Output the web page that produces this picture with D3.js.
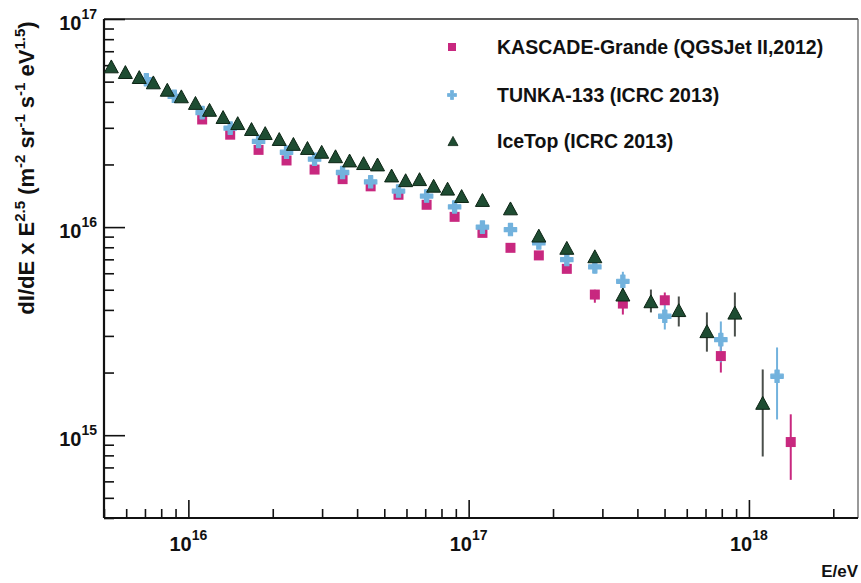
<!DOCTYPE html>
<html>
<head>
<meta charset="utf-8">
<script src="https://cdn.jsdelivr.net/npm/d3@7"></script>
<style>
  body { margin: 0; background: #fff; }
  text { font-family: "Liberation Sans", Arial, sans-serif; font-weight: bold; fill: #111; }
</style>
</head>
<body>
<div id="chart"></div>
<script>
// KASCADE-Grande (QGSJet II, 2012)
var kgEnergy = [1.12e16, 1.41e16, 1.78e16, 2.24e16, 2.82e16, 3.55e16, 4.47e16, 5.62e16, 7.08e16, 8.91e16,
                1.12e17, 1.41e17, 1.78e17, 2.24e17, 2.82e17, 3.55e17, 5.01e17, 7.94e17, 1.41e18];
var kgFlux = [3.29e16, 2.78e16, 2.35e16, 2.09e16, 1.89e16, 1.70e16, 1.57e16, 1.43e16, 1.28e16, 1.12e16,
              9.38e15, 7.95e15, 7.31e15, 6.30e15, 4.74e15, 4.29e15, 4.45e15, 2.40e15, 9.27e14];
var kgErrLo = [null, null, null, null, null, null, null, null, null, null,
               null, null, null, null, 4.33e15, 3.80e15, 4.24e15, 2.00e15, 6.1e14];
var kgErrHi = [null, null, null, null, null, null, null, null, null, null,
               null, null, null, null, 5.00e15, 4.66e15, 4.85e15, 2.98e15, 1.26e15];

// TUNKA-133 (ICRC 2013)
var tkEnergy = [7.08e15, 8.91e15, 1.12e16, 1.41e16, 1.78e16, 2.24e16, 2.82e16, 3.55e16, 4.47e16, 5.62e16,
                7.08e16, 8.91e16, 1.12e17, 1.41e17, 1.78e17, 2.24e17, 2.82e17, 3.55e17, 5.01e17, 7.94e17, 1.26e18];
var tkFlux = [5.11e16, 4.25e16, 3.55e16, 2.99e16, 2.58e16, 2.29e16, 2.12e16, 1.83e16, 1.65e16, 1.49e16,
              1.41e16, 1.25e16, 1.00e16, 9.73e15, 8.40e15, 6.98e15, 6.44e15, 5.49e15, 3.73e15, 2.88e15, 1.92e15];
var tkErrLo = [null, null, null, null, null, null, null, null, null, null,
               null, null, null, null, null, null, 6.0e15, 4.84e15, 3.22e15, 2.24e15, 1.19e15];
var tkErrHi = [null, null, null, null, null, null, null, null, null, null,
               null, null, null, null, null, null, 6.9e15, 6.10e15, 4.34e15, 3.52e15, 2.64e15];

// IceTop (ICRC 2013)
var itEnergy = [5.31e15, 5.96e15, 6.68e15, 7.50e15, 8.41e15, 9.44e15, 1.06e16, 1.19e16, 1.33e16, 1.50e16,
                1.68e16, 1.88e16, 2.11e16, 2.37e16, 2.66e16, 2.99e16, 3.35e16, 3.76e16, 4.22e16, 4.73e16,
                5.31e16, 5.96e16, 6.68e16, 7.50e16, 8.41e16, 9.44e16, 1.12e17, 1.41e17, 1.78e17, 2.24e17,
                2.82e17, 3.55e17, 4.47e17, 5.62e17, 7.08e17, 8.91e17, 1.12e18];
var itFlux = [5.92e16, 5.56e16, 5.26e16, 4.96e16, 4.57e16, 4.25e16, 3.95e16, 3.66e16, 3.38e16, 3.16e16,
              2.96e16, 2.83e16, 2.65e16, 2.51e16, 2.40e16, 2.30e16, 2.19e16, 2.09e16, 2.03e16, 2.00e16,
              1.77e16, 1.68e16, 1.70e16, 1.58e16, 1.53e16, 1.41e16, 1.35e16, 1.23e16, 9.10e15, 7.95e15,
              7.24e15, 4.74e15, 4.40e15, 3.99e15, 3.16e15, 3.88e15, 1.43e15];
var itErrLo = itFlux.map(function () { return null; });
var itErrHi = itFlux.map(function () { return null; });
[[31, 4.45e15, 5.05e15], [32, 3.89e15, 5.01e15], [33, 3.33e15, 4.64e15], [34, 2.52e15, 3.89e15],
 [35, 2.98e15, 4.85e15], [36, 7.9e14, 2.07e15]].forEach(function (e) { itErrLo[e[0]] = e[1]; itErrHi[e[0]] = e[2]; });

var legendLabels = ["KASCADE-Grande (QGSJet II,2012)", "TUNKA-133 (ICRC 2013)", "IceTop (ICRC 2013)"];
var xMajor = [1e16, 1e17, 1e18];
var yMajor = [1e15, 1e16, 1e17];

var width = 861, height = 583;
var margin = {top: 19, right: 3, bottom: 65, left: 104};

var pink = "#c8287f", blue = "#72b2dd", green = "#1e4c32";

var svg = d3.select("#chart").append("svg")
    .attr("width", width)
    .attr("height", height);

svg.append("rect").attr("width", width).attr("height", height).attr("fill", "#fff");

var x = d3.scaleLog().domain([5e15, 2.45e18]).range([margin.left, width - margin.right]);
var y = d3.scaleLog().domain([4e14, 1e17]).range([height - margin.bottom, margin.top]);

var x0 = margin.left, x1 = width - margin.right, y0 = height - margin.bottom, y1 = margin.top;

// frame (top and right)
svg.append("line").attr("x1", x0).attr("x2", x1).attr("y1", y1).attr("y2", y1)
  .attr("stroke", "#222").attr("stroke-width", 1.5);
svg.append("line").attr("x1", x1).attr("x2", x1).attr("y1", y1).attr("y2", y0)
  .attr("stroke", "#555").attr("stroke-width", 1.2);

// axes: ticks drawn inward, majors longer than minors
function isMajor(v) { return Math.abs(Math.log10(v) - Math.round(Math.log10(v))) < 1e-6; }
var xMinor = x.ticks().filter(function (v) { return !isMajor(v); });
var yMinor = y.ticks().filter(function (v) { return !isMajor(v); });

function styleAxis(g) {
  g.select(".domain").remove();
  g.selectAll(".tick line").attr("stroke", "#111").attr("stroke-width", 1.6);
  g.selectAll(".tick text").remove();
}

svg.append("g").attr("transform", "translate(0," + y0 + ")")
  .call(d3.axisBottom(x).tickValues(xMinor).tickSize(-9)).call(styleAxis);
svg.append("g").attr("transform", "translate(0," + y0 + ")")
  .call(d3.axisBottom(x).tickValues(xMajor).tickSize(-18)).call(styleAxis);
svg.append("g").attr("transform", "translate(" + x0 + ",0)")
  .call(d3.axisLeft(y).tickValues(yMinor).tickSize(-10)).call(styleAxis);
svg.append("g").attr("transform", "translate(" + x0 + ",0)")
  .call(d3.axisLeft(y).tickValues(yMajor).tickSize(-21)).call(styleAxis);

svg.append("line").attr("x1", x0).attr("x2", x1).attr("y1", y0).attr("y2", y0)
  .attr("stroke", "#111").attr("stroke-width", 2.2);
svg.append("line").attr("x1", x0).attr("x2", x0).attr("y1", y1).attr("y2", y0)
  .attr("stroke", "#111").attr("stroke-width", 2.2);

// tick labels 10^n
xMajor.forEach(function (v) {
  var t = svg.append("text").attr("x", x(v)).attr("y", 551).attr("text-anchor", "middle");
  t.append("tspan").attr("font-size", 20).text("10");
  t.append("tspan").attr("font-size", 14).attr("dy", -11).text(Math.round(Math.log10(v)));
});
yMajor.forEach(function (v) {
  var t = svg.append("text").attr("x", 97).attr("y", y(v) + 10.5).attr("text-anchor", "end");
  t.append("tspan").attr("font-size", 20).text("10");
  t.append("tspan").attr("font-size", 14).attr("dy", -11).text(Math.round(Math.log10(v)));
});

// axis titles
svg.append("text").attr("x", 858).attr("y", 577).attr("text-anchor", "end")
  .attr("font-size", 17).text("E/eV");

var yl = svg.append("text").attr("transform", "translate(34,168) rotate(-90)")
  .attr("text-anchor", "middle").attr("font-size", 22);
[["dI/dE x E", 0], ["2.5", 1], [" (m", 0], ["-2", 1], [" sr", 0], ["-1", 1], [" s", 0], ["-1", 1],
 [" eV", 0], ["1.5", 1], [")", 0]].forEach(function (p, i, arr) {
  var prevSup = i > 0 && arr[i - 1][1];
  var ts = yl.append("tspan").text(p[0]).attr("xml:space", "preserve").style("white-space", "pre");
  if (p[1]) ts.attr("font-size", 15).attr("dy", -9);
  else if (prevSup) ts.attr("dy", 9);
});

// markers
var triPath = function (w) {
  var h = w * 0.92;
  return "M0," + (-h / 2) + "L" + (w / 2) + "," + (h / 2) + "L" + (-w / 2) + "," + (h / 2) + "Z";
};
var squarePath = d3.symbol().type(d3.symbolSquare).size(100)();
var crossPath = d3.symbol().type(d3.symbolCross).size(85)();

function rows(E, F, lo, hi) {
  return E.map(function (e, i) { return {e: e, f: F[i], lo: lo[i], hi: hi[i]}; });
}
var kg = rows(kgEnergy, kgFlux, kgErrLo, kgErrHi);
var tk = rows(tkEnergy, tkFlux, tkErrLo, tkErrHi);
var it = rows(itEnergy, itFlux, itErrLo, itErrHi);

function errBars(data, color) {
  svg.append("g").selectAll("line")
    .data(data.filter(function (d) { return d.lo !== null; }))
    .enter().append("line")
    .attr("x1", function (d) { return x(d.e); })
    .attr("x2", function (d) { return x(d.e); })
    .attr("y1", function (d) { return y(d.lo); })
    .attr("y2", function (d) { return y(d.hi); })
    .attr("stroke", color).attr("stroke-width", 2);
}
errBars(kg, pink);
errBars(tk, blue);
errBars(it, "#4a4f4b");

function points(data, path, fill, stroke, sw) {
  svg.append("g").selectAll("path").data(data).enter().append("path")
    .attr("d", path)
    .attr("transform", function (d) { return "translate(" + x(d.e) + "," + y(d.f) + ")"; })
    .attr("fill", fill)
    .attr("stroke", stroke).attr("stroke-width", sw).attr("stroke-linejoin", "round");
}
points(kg, squarePath, pink, "none", 0);
points(tk, crossPath, blue, blue, 1.2);
points(it, triPath(14), green, "#0c2414", 1);

// legend
var legendY = [47, 95, 141];
var lg = svg.append("g");
lg.append("path").attr("d", d3.symbol().type(d3.symbolSquare).size(64)())
  .attr("transform", "translate(452," + legendY[0] + ")").attr("fill", pink);
lg.append("path").attr("d", d3.symbol().type(d3.symbolCross).size(45)())
  .attr("transform", "translate(452," + legendY[1] + ")").attr("fill", blue)
  .attr("stroke", blue).attr("stroke-width", 0.8).attr("stroke-linejoin", "round");
lg.append("path").attr("d", triPath(10))
  .attr("transform", "translate(453," + legendY[2] + ")").attr("fill", green)
  .attr("stroke", "#0c2414").attr("stroke-width", 0.8);
legendLabels.forEach(function (s, i) {
  lg.append("text").attr("x", 497).attr("y", legendY[i] + 7).attr("font-size", 19.5).text(s);
});
</script>
</body>
</html>
